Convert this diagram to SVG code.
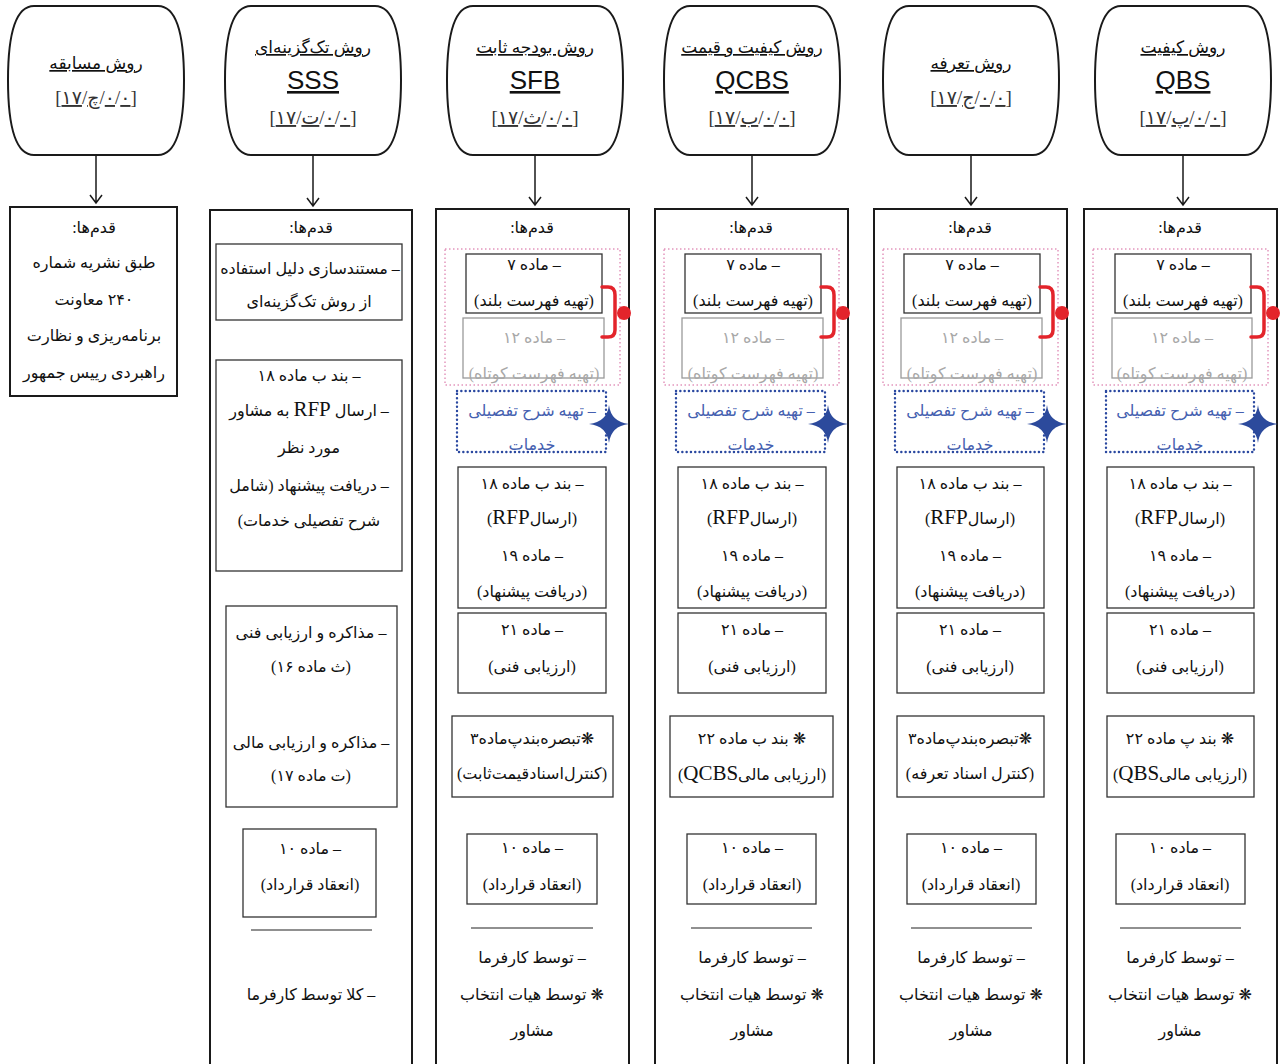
<svg xmlns="http://www.w3.org/2000/svg" width="1280" height="1064" viewBox="0 0 1280 1064">
<defs>
<style>
.hdr{fill:#fff;stroke:#1a1a1a;stroke-width:2}
.outer{fill:#fff;stroke:#1a1a1a;stroke-width:2}
.box{fill:none;stroke:#333;stroke-width:1.3}
.gbox{fill:none;stroke:#9a9a9a;stroke-width:1.3}
.pink{fill:none;stroke:#d4609a;stroke-width:1;stroke-dasharray:1.5 2.5}
.blue{fill:none;stroke:#2a48a0;stroke-width:2.4;stroke-dasharray:0.1 4.2;stroke-linecap:round}
.t{font-family:"Liberation Serif","DejaVu Sans",serif;font-size:16px;fill:#111;direction:rtl;text-anchor:middle}
.h{font-size:17px}
.en{font-size:21px}
.g{fill:#a8a8a8}
.b{fill:#4560b0}
.lat{font-family:"Liberation Sans",Arial,sans-serif;font-size:26px;fill:#111;text-anchor:middle;text-decoration:underline}
.ref{font-family:"Liberation Serif","DejaVu Sans",serif;font-size:19px;fill:#333;direction:ltr;unicode-bidi:bidi-override;text-anchor:middle}
.u{text-decoration:underline}
.ul{text-decoration:underline}
.conn{fill:none;stroke:#1a1a1a;stroke-width:1.5}
.brk{fill:none;stroke:#e3242b;stroke-width:3.5;stroke-linecap:round;stroke-linejoin:round}
.dot{fill:#e3242b}
.star{fill:#2c4a9c}
.rule{stroke:#222;stroke-width:1.2}
</style>
<path id="barrel" d="M-62,6 H62 C82,6 88,40 88,80 C88,120 82,155 62,155 H-62 C-82,155 -88,120 -88,80 C-88,40 -82,6 -62,6 Z"/>
<path id="star4" d="M0,-19 Q2,-2 20,0 Q2,2 0,19 Q-2,2 -20,0 Q-2,-2 0,-19 Z"/>
</defs>

<!-- Column 1: competition method -->
<g id="node-h1">
<use href="#barrel" x="96" class="hdr"/>
<text class="t h ul" x="96" y="69">روش مسابقه</text>
<text class="ref" x="96" y="104">[<tspan class="u">۱۷</tspan>/<tspan class="u">چ</tspan>/<tspan class="u">۰</tspan>/<tspan class="u">۰</tspan>]</text>
</g>
<g id="node-b1">
<rect class="outer" x="10" y="207" width="167" height="189"/>
<text class="t" x="94" y="233">قدم‌ها:</text>
<text class="t" x="94" y="268">طبق نشریه شماره</text>
<text class="t" x="94" y="305">۲۴۰ معاونت</text>
<text class="t" x="94" y="341">برنامه‌ریزی و نظارت</text>
<text class="t" x="94" y="378">راهبردی رییس جمهور</text>
</g>

<!-- Column 2: SSS -->
<g id="node-h2">
<use href="#barrel" x="313" class="hdr"/>
<text class="t h ul" x="313" y="53">روش  تک‌گزینه‌ای</text>
<text class="lat" x="313" y="89">SSS</text>
<text class="ref" x="313" y="124">[<tspan class="u">۱۷</tspan>/<tspan class="u">ت</tspan>/<tspan class="u">۰</tspan>/<tspan class="u">۰</tspan>]</text>
</g>
<g id="node-b2">
<rect class="outer" x="210" y="210" width="202" height="900"/>
<text class="t" x="311" y="233">قدم‌ها:</text>
<rect class="box" x="216" y="244" width="186" height="76"/>
<text class="t" x="310" y="274">– مستندسازی دلیل استفاده</text>
<text class="t" x="309" y="307">از روش تک‌گزینه‌ای</text>
<rect class="box" x="216" y="360" width="186" height="211"/>
<text class="t" x="309" y="381">– بند ب ماده ۱۸</text>
<text class="t" x="309" y="416">– ارسال <tspan class="en">RFP</tspan> به مشاور</text>
<text class="t" x="309" y="453">مورد نظر</text>
<text class="t" x="309" y="491">– دریافت پیشنهاد (شامل</text>
<text class="t" x="309" y="526">شرح تفصیلی خدمات)</text>
<rect class="box" x="226" y="606" width="171" height="201"/>
<text class="t" x="311" y="638">– مذاکره و ارزیابی فنی</text>
<text class="t" x="311" y="672">(ث ماده ۱۶)</text>
<text class="t" x="311" y="748">– مذاکره و ارزیابی مالی</text>
<text class="t" x="311" y="781">(ت ماده ۱۷)</text>
<rect class="box" x="243" y="829" width="133" height="88"/>
<text class="t" x="310" y="854">– ماده ۱۰</text>
<text class="t" x="310" y="890">(انعقاد قرارداد)</text>
<line class="rule" x1="251" y1="930" x2="372" y2="930"/>
<text class="t" x="311" y="1000">– کلا توسط کارفرما</text>
</g>

<!-- Column 3: SFB -->
<g id="node-h3">
<use href="#barrel" x="535" class="hdr"/>
<text class="t h ul" x="535" y="53">روش بودجه ثابت</text>
<text class="lat" x="535" y="89">SFB</text>
<text class="ref" x="535" y="124">[<tspan class="u">۱۷</tspan>/<tspan class="u">ث</tspan>/<tspan class="u">۰</tspan>/<tspan class="u">۰</tspan>]</text>
</g>
<g id="node-b3" transform="translate(436,0)">
<rect class="outer" x="0" y="209" width="193" height="900"/>
<text class="t" x="96" y="233">قدم‌ها:</text>
<rect class="pink" x="9" y="249" width="175" height="136"/>
<rect class="box" x="30" y="254" width="136" height="59"/>
<text class="t" x="98" y="270">– ماده ۷</text>
<text class="t" x="98" y="306">(تهیه فهرست بلند)</text>
<rect class="gbox" x="27" y="318" width="141" height="60"/>
<text class="t g" x="98" y="343">– ماده ۱۲</text>
<text class="t g" x="98" y="379">(تهیه فهرست کوتاه)</text>
<path class="brk" d="M166,287 H172 Q179,287 179,295 V330 Q179,337 172,337 H166"/>
<circle class="dot" cx="188" cy="313" r="7"/>
<rect class="blue" x="21" y="391" width="149" height="61"/>
<text class="t b" x="96" y="416">– تهیه شرح تفصیلی</text>
<text class="t b" x="96" y="450">خدمات</text>
<use href="#star4" x="173" y="424" class="star"/>
<rect class="box" x="22" y="467" width="148" height="141"/>
<text class="t" x="96" y="489">– بند ب ماده ۱۸</text>
<text class="t" x="96" y="524">(ارسال<tspan class="en">RFP</tspan>)</text>
<text class="t" x="96" y="561">– ماده ۱۹</text>
<text class="t" x="96" y="597">(دریافت پیشنهاد)</text>
<rect class="box" x="22" y="613" width="148" height="80"/>
<text class="t" x="96" y="635">– ماده ۲۱</text>
<text class="t" x="96" y="672">(ارزیابی فنی)</text>
<rect class="box" x="16" y="716" width="161" height="81"/>
<text class="t" x="96" y="744">❋تبصره‌بندپ‌ماده۳</text>
<text class="t" x="96" y="779">(کنترل‌اسنادقیمت‌ثابت)</text>
<rect class="box" x="31" y="834" width="130" height="70"/>
<text class="t" x="96" y="853">– ماده ۱۰</text>
<text class="t" x="96" y="890">(انعقاد قرارداد)</text>
<line class="rule" x1="35" y1="928" x2="157" y2="928"/>
<text class="t" x="96" y="963">– توسط کارفرما</text>
<text class="t" x="96" y="1000">❋ توسط هیات انتخاب</text>
<text class="t" x="96" y="1036">مشاور</text>
</g>

<!-- Column 4: QCBS -->
<g id="node-h4">
<use href="#barrel" x="752" class="hdr"/>
<text class="t h ul" x="752" y="53">روش کیفیت و قیمت</text>
<text class="lat" x="752" y="89">QCBS</text>
<text class="ref" x="752" y="124">[<tspan class="u">۱۷</tspan>/<tspan class="u">ب</tspan>/<tspan class="u">۰</tspan>/<tspan class="u">۰</tspan>]</text>
</g>
<g id="node-b4" transform="translate(655,0)">
<rect class="outer" x="0" y="209" width="193" height="900"/>
<text class="t" x="96" y="233">قدم‌ها:</text>
<rect class="pink" x="9" y="249" width="175" height="136"/>
<rect class="box" x="30" y="254" width="136" height="59"/>
<text class="t" x="98" y="270">– ماده ۷</text>
<text class="t" x="98" y="306">(تهیه فهرست بلند)</text>
<rect class="gbox" x="27" y="318" width="141" height="60"/>
<text class="t g" x="98" y="343">– ماده ۱۲</text>
<text class="t g" x="98" y="379">(تهیه فهرست کوتاه)</text>
<path class="brk" d="M166,287 H172 Q179,287 179,295 V330 Q179,337 172,337 H166"/>
<circle class="dot" cx="188" cy="313" r="7"/>
<rect class="blue" x="21" y="391" width="149" height="61"/>
<text class="t b" x="96" y="416">– تهیه شرح تفصیلی</text>
<text class="t b" x="96" y="450">خدمات</text>
<use href="#star4" x="173" y="424" class="star"/>
<rect class="box" x="23" y="467" width="148" height="141"/>
<text class="t" x="97" y="489">– بند ب ماده ۱۸</text>
<text class="t" x="97" y="524">(ارسال<tspan class="en">RFP</tspan>)</text>
<text class="t" x="97" y="561">– ماده ۱۹</text>
<text class="t" x="97" y="597">(دریافت پیشنهاد)</text>
<rect class="box" x="23" y="613" width="148" height="80"/>
<text class="t" x="97" y="635">– ماده ۲۱</text>
<text class="t" x="97" y="672">(ارزیابی فنی)</text>
<rect class="box" x="15" y="716" width="163" height="81"/>
<text class="t" x="97" y="744">❋ بند ب ماده ۲۲</text>
<text class="t" x="97" y="780">(ارزیابی مالی<tspan class="en">QCBS</tspan>)</text>
<rect class="box" x="32" y="834" width="129" height="70"/>
<text class="t" x="97" y="853">– ماده ۱۰</text>
<text class="t" x="97" y="890">(انعقاد قرارداد)</text>
<line class="rule" x1="36" y1="928" x2="157" y2="928"/>
<text class="t" x="97" y="963">– توسط کارفرما</text>
<text class="t" x="97" y="1000">❋ توسط هیات انتخاب</text>
<text class="t" x="97" y="1036">مشاور</text>
</g>

<!-- Column 5: tariff -->
<g id="node-h5">
<use href="#barrel" x="971" class="hdr"/>
<text class="t h ul" x="971" y="69">روش تعرفه</text>
<text class="ref" x="971" y="104">[<tspan class="u">۱۷</tspan>/<tspan class="u">ج</tspan>/<tspan class="u">۰</tspan>/<tspan class="u">۰</tspan>]</text>
</g>
<g id="node-b5" transform="translate(874,0)">
<rect class="outer" x="0" y="209" width="193" height="900"/>
<text class="t" x="96" y="233">قدم‌ها:</text>
<rect class="pink" x="9" y="249" width="175" height="136"/>
<rect class="box" x="30" y="254" width="136" height="59"/>
<text class="t" x="98" y="270">– ماده ۷</text>
<text class="t" x="98" y="306">(تهیه فهرست بلند)</text>
<rect class="gbox" x="27" y="318" width="141" height="60"/>
<text class="t g" x="98" y="343">– ماده ۱۲</text>
<text class="t g" x="98" y="379">(تهیه فهرست کوتاه)</text>
<path class="brk" d="M166,287 H172 Q179,287 179,295 V330 Q179,337 172,337 H166"/>
<circle class="dot" cx="188" cy="313" r="7"/>
<rect class="blue" x="21" y="391" width="149" height="61"/>
<text class="t b" x="96" y="416">– تهیه شرح تفصیلی</text>
<text class="t b" x="96" y="450">خدمات</text>
<use href="#star4" x="173" y="424" class="star"/>
<rect class="box" x="23" y="467" width="147" height="141"/>
<text class="t" x="96" y="489">– بند ب ماده ۱۸</text>
<text class="t" x="96" y="524">(ارسال<tspan class="en">RFP</tspan>)</text>
<text class="t" x="96" y="561">– ماده ۱۹</text>
<text class="t" x="96" y="597">(دریافت پیشنهاد)</text>
<rect class="box" x="23" y="613" width="147" height="80"/>
<text class="t" x="96" y="635">– ماده ۲۱</text>
<text class="t" x="96" y="672">(ارزیابی فنی)</text>
<rect class="box" x="23" y="716" width="147" height="81"/>
<text class="t" x="96" y="744">❋تبصره‌بندپ‌ماده۳</text>
<text class="t" x="96" y="779">(کنترل اسناد تعرفه)</text>
<rect class="box" x="33" y="834" width="129" height="70"/>
<text class="t" x="97" y="853">– ماده ۱۰</text>
<text class="t" x="97" y="890">(انعقاد قرارداد)</text>
<line class="rule" x1="37" y1="928" x2="158" y2="928"/>
<text class="t" x="97" y="963">– توسط کارفرما</text>
<text class="t" x="97" y="1000">❋ توسط هیات انتخاب</text>
<text class="t" x="97" y="1036">مشاور</text>
</g>

<!-- Column 6: QBS -->
<g id="node-h6">
<use href="#barrel" x="1183" class="hdr"/>
<text class="t h ul" x="1183" y="53">روش کیفیت</text>
<text class="lat" x="1183" y="89">QBS</text>
<text class="ref" x="1183" y="124">[<tspan class="u">۱۷</tspan>/<tspan class="u">پ</tspan>/<tspan class="u">۰</tspan>/<tspan class="u">۰</tspan>]</text>
</g>
<g id="node-b6" transform="translate(1084,0)">
<rect class="outer" x="0" y="209" width="193" height="900"/>
<text class="t" x="96" y="233">قدم‌ها:</text>
<rect class="pink" x="9" y="249" width="175" height="136"/>
<rect class="box" x="31" y="254" width="136" height="59"/>
<text class="t" x="99" y="270">– ماده ۷</text>
<text class="t" x="99" y="306">(تهیه فهرست بلند)</text>
<rect class="gbox" x="28" y="318" width="140" height="60"/>
<text class="t g" x="98" y="343">– ماده ۱۲</text>
<text class="t g" x="98" y="379">(تهیه فهرست کوتاه)</text>
<path class="brk" d="M167,287 H173 Q180,287 180,295 V330 Q180,337 173,337 H167"/>
<circle class="dot" cx="189" cy="313" r="7"/>
<rect class="blue" x="22" y="391" width="148" height="61"/>
<text class="t b" x="96" y="416">– تهیه شرح تفصیلی</text>
<text class="t b" x="96" y="450">خدمات</text>
<use href="#star4" x="174" y="424" class="star"/>
<rect class="box" x="23" y="467" width="147" height="141"/>
<text class="t" x="96" y="489">– بند ب ماده ۱۸</text>
<text class="t" x="96" y="524">(ارسال<tspan class="en">RFP</tspan>)</text>
<text class="t" x="96" y="561">– ماده ۱۹</text>
<text class="t" x="96" y="597">(دریافت پیشنهاد)</text>
<rect class="box" x="23" y="613" width="147" height="80"/>
<text class="t" x="96" y="635">– ماده ۲۱</text>
<text class="t" x="96" y="672">(ارزیابی فنی)</text>
<rect class="box" x="23" y="716" width="147" height="81"/>
<text class="t" x="96" y="744">❋ بند پ ماده ۲۲</text>
<text class="t" x="96" y="780">(ارزیابی مالی<tspan class="en">QBS</tspan>)</text>
<rect class="box" x="32" y="834" width="129" height="70"/>
<text class="t" x="96" y="853">– ماده ۱۰</text>
<text class="t" x="96" y="890">(انعقاد قرارداد)</text>
<line class="rule" x1="36" y1="928" x2="157" y2="928"/>
<text class="t" x="96" y="963">– توسط کارفرما</text>
<text class="t" x="96" y="1000">❋ توسط هیات انتخاب</text>
<text class="t" x="96" y="1036">مشاور</text>
</g>

<!-- Connectors -->
<g id="connectors">
<path class="conn" d="M96,155 V203 M90,195 L96,203 L102,195"/>
<path class="conn" d="M313,155 V206 M307,198 L313,206 L319,198"/>
<path class="conn" d="M535,155 V205 M529,197 L535,205 L541,197"/>
<path class="conn" d="M752,155 V205 M746,197 L752,205 L758,197"/>
<path class="conn" d="M971,155 V205 M965,197 L971,205 L977,197"/>
<path class="conn" d="M1183,155 V205 M1177,197 L1183,205 L1189,197"/>
</g>
</svg>
